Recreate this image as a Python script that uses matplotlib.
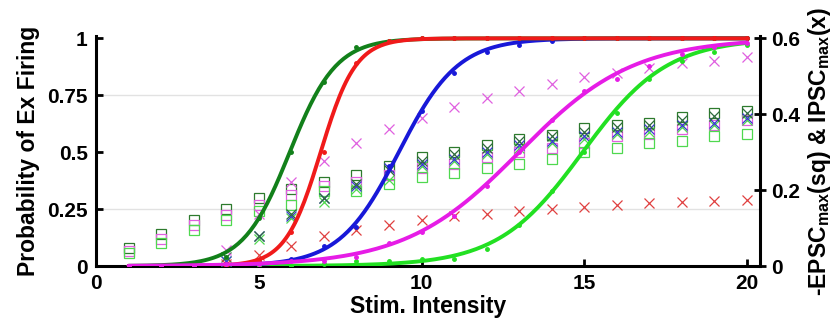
import numpy as np
import matplotlib
matplotlib.use("Agg")
import matplotlib.pyplot as plt

plt.rcParams['font.family'] = ['Liberation Sans', 'DejaVu Sans']
plt.rcParams['font.weight'] = 'bold'
plt.rcParams['mathtext.fontset'] = 'custom'
plt.rcParams['mathtext.rm'] = 'Liberation Sans:bold'
plt.rcParams['mathtext.it'] = 'Liberation Sans:bold'
plt.rcParams['mathtext.bf'] = 'Liberation Sans:bold'

# stimulus intensities
stim = np.arange(1, 21)
stim_x = np.arange(4, 21)

# sigmoid fits (midpoint, slope) for probability of firing
names = ['green', 'blue', 'dkgreen', 'red', 'magenta']
line_colors = ['#22e022', '#1818d8', '#12801a', '#f01a1a', '#e61ce6']
fit_mid = [14.95, 9.3, 5.95, 6.9, 13.0]
fit_slope = [0.77, 1.1, 1.4, 1.85, 0.57]

# measured probabilities (small dots)
prob_dkgreen = [0, 0, 0.01, 0.04, 0.21, 0.5, 0.81, 0.96, 0.99, 1, 1, 1, 1, 1, 1, 1, 1, 1, 1, 1]
prob_red = [0, 0, 0, 0, 0.02, 0.15, 0.5, 0.89, 0.99, 1, 1, 1, 1, 1, 1, 1, 1, 1, 1, 1]
prob_blue = [0, 0, 0, 0.01, 0.02, 0.03, 0.09, 0.17, 0.44, 0.68, 0.85, 0.94, 0.97, 0.99, 1, 1, 1, 1, 1, 1]
prob_magenta = [0, 0, 0, 0.01, 0.01, 0.02, 0.02, 0.04, 0.1, 0.15, 0.22, 0.35, 0.5, 0.64, 0.77, 0.82, 0.88, 0.93, 0.96, 0.98]
prob_green = [0, 0, 0, 0, 0, 0, 0.01, 0.02, 0.02, 0.03, 0.03, 0.075, 0.18, 0.33, 0.5, 0.67, 0.82, 0.9, 0.94, 0.97]
probs = [prob_green, prob_blue, prob_dkgreen, prob_red, prob_magenta]

# -EPSC max (squares), right axis
sq_dkgreen = [0.048, 0.084, 0.12, 0.15, 0.18, 0.204, 0.222, 0.24, 0.264, 0.288,
              0.30, 0.318, 0.336, 0.345, 0.363, 0.372, 0.378, 0.393, 0.402, 0.408]
sq_magenta = [0.039, 0.072, 0.108, 0.135, 0.162, 0.186, 0.21, 0.222, 0.24, 0.258,
              0.27, 0.288, 0.30, 0.312, 0.324, 0.342, 0.348, 0.36, 0.372, 0.384]
sq_green = [0.033, 0.06, 0.096, 0.12, 0.144, 0.162, 0.198, 0.198, 0.216, 0.234,
            0.246, 0.258, 0.27, 0.282, 0.30, 0.312, 0.324, 0.33, 0.342, 0.348]

# IPSC max (crosses), right axis, x = 4..20
x_dkgreen = [0.024, 0.078, 0.138, 0.18, 0.216, 0.252, 0.276, 0.294, 0.312, 0.33,
             0.342, 0.354, 0.366, 0.372, 0.384, 0.396, 0.402]
x_blue = [0.012, 0.078, 0.132, 0.18, 0.21, 0.258, 0.27, 0.282, 0.30, 0.318,
          0.33, 0.342, 0.354, 0.36, 0.372, 0.378, 0.39]
x_green = [0.012, 0.072, 0.126, 0.168, 0.204, 0.228, 0.264, 0.276, 0.294, 0.312,
           0.324, 0.336, 0.348, 0.354, 0.366, 0.372, 0.384]
x_magenta = [0.042, 0.138, 0.222, 0.276, 0.324, 0.36, 0.39, 0.42, 0.444, 0.462,
             0.48, 0.498, 0.51, 0.522, 0.534, 0.54, 0.552]
x_red = [0.006, 0.03, 0.054, 0.078, 0.096, 0.108, 0.12, 0.132, 0.138, 0.144,
         0.15, 0.156, 0.162, 0.165, 0.168, 0.171, 0.174]

grid_levels = [0.25, 0.75]

fig = plt.figure(figsize=(8.38, 3.28), dpi=100)
ax = fig.add_axes([0.1146, 0.189, 0.7924, 0.701])
ax2 = ax.twinx()

for g in grid_levels:
    ax.axhline(g, color='#e2e2e2', lw=1.0, zorder=0)

# scatter markers on the right axis
mk = dict(linestyle='none', markersize=6.5, markeredgewidth=0.9, markerfacecolor='none')
ax2.plot(stim, sq_dkgreen, marker='s', markeredgecolor='#2d7a2d', **mk)
ax2.plot(stim, sq_magenta, marker='s', markeredgecolor='#e060e0', **mk)
ax2.plot(stim, sq_green, marker='s', markeredgecolor='#4fd84f', **mk)
ax2.plot(stim_x, x_green, marker='x', markeredgecolor='#4fd84f', **mk)
ax2.plot(stim_x, x_blue, marker='x', markeredgecolor='#3a3ad0', **mk)
ax2.plot(stim_x, x_dkgreen, marker='x', markeredgecolor='#2d6a3d', **mk)
ax2.plot(stim_x, x_magenta, marker='x', markeredgecolor='#e060e0', **mk)
ax2.plot(stim_x, x_red, marker='x', markeredgecolor='#e04040', **mk)

# fitted curves and measured dots on the left scale
xs = np.linspace(1, 20, 300)
for i in range(len(names)):
    yfit = 1.0 / (1.0 + np.exp(-fit_slope[i] * (xs - fit_mid[i])))
    ax2.plot(xs, yfit * 0.6, color=line_colors[i], lw=2.8, solid_capstyle='round')
    ax2.plot(stim, np.array(probs[i]) * 0.6, 'o', color=line_colors[i], markersize=2.5)

ax.set_xlim(0, 20.4)
ax.set_ylim(0, 1.01)
ax2.set_ylim(0, 0.606)

ax.set_xticks([0, 5, 10, 15, 20])
ax.set_yticks([0, 0.25, 0.5, 0.75, 1])
ax.set_yticklabels(['0', '0.25', '0.5', '0.75', '1'])
ax2.set_yticks([0, 0.2, 0.4, 0.6])
ax2.set_yticklabels(['0', '0.2', '0.4', '0.6'])

for a in (ax, ax2):
    a.spines['top'].set_visible(False)
    for s in ('left', 'right', 'bottom'):
        a.spines[s].set_linewidth(2.2)
ax.spines['right'].set_visible(False)
ax2.spines['left'].set_visible(False)
ax2.spines['bottom'].set_visible(False)

ax.tick_params(axis='both', direction='in', length=5, width=2, labelsize=15, pad=6)
ax2.tick_params(axis='y', direction='inout', length=8, width=2, labelsize=15, pad=4)

ax.set_xlabel('Stim. Intensity', fontsize=16.5, fontweight='bold', labelpad=1)
ax.set_ylabel('Probability of Ex Firing', fontsize=16.5, fontweight='bold', labelpad=5)
ax2.set_ylabel(r'-EPSC$_{\rm max}$(sq) & IPSC$_{\rm max}$(x)', fontsize=16.5,
               fontweight='bold', labelpad=4)

fig.savefig('out.png', dpi=100)
